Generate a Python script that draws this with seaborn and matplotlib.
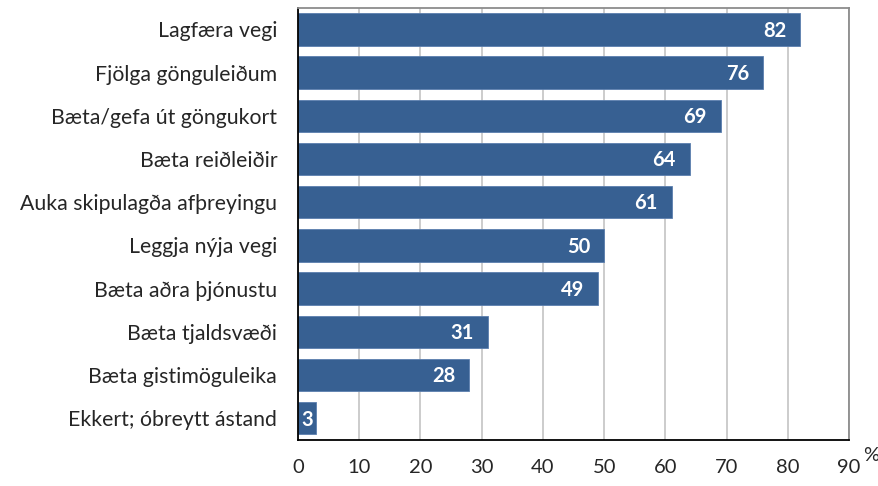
import matplotlib
matplotlib.use("Agg")
import matplotlib.pyplot as plt
import seaborn as sns
import pandas as pd

categories = [
    "Lagfæra vegi",
    "Fjölga gönguleiðum",
    "Bæta/gefa út göngukort",
    "Bæta reiðleiðir",
    "Auka skipulagða afþreyingu",
    "Leggja nýja vegi",
    "Bæta aðra þjónustu",
    "Bæta tjaldsvæði",
    "Bæta gistimöguleika",
    "Ekkert; óbreytt ástand",
]
values = [82, 76, 69, 64, 61, 50, 49, 31, 28, 3]
x_ticks = [0, 10, 20, 30, 40, 50, 60, 70, 80, 90]

df = pd.DataFrame({"cat": categories, "val": values})

sns.set_theme(style="white")
plt.rcParams["font.family"] = ["Lato", "DejaVu Sans"]

fig = plt.figure(figsize=(8.79, 4.86), dpi=100)
ax = fig.add_axes([0.339, 0.095, 0.627, 0.889])

bar_color = "#376092"
sns.barplot(data=df, x="val", y="cat", orient="h", color=bar_color,
            width=0.75, saturation=1, ax=ax, edgecolor="#5b7fae", linewidth=0.6)

ax.set_xlim(0, 90)
ax.set_ylim(len(categories) - 0.5, -0.5)
ax.set_xticks(x_ticks)
ax.set_xticklabels([str(t) for t in x_ticks], fontsize=14.5)
ax.set_yticks(range(len(categories)))
ax.set_yticklabels(categories, fontsize=15.3)
ax.set_xlabel("")
ax.set_ylabel("")

# y tick marks sit between the categories
ax.set_yticks([i + 0.5 for i in range(-1, len(categories))], minor=True)
ax.tick_params(axis="y", which="major", length=0, pad=15)
ax.tick_params(axis="y", which="minor", length=7, width=1.2, color="black", direction="out")
ax.tick_params(axis="x", which="major", length=6, width=1.2, color="black", direction="out", pad=8)

ax.grid(axis="x", color="#c8c8c8", linewidth=1.3)
ax.set_axisbelow(True)

for side in ("left", "bottom"):
    ax.spines[side].set_color("black")
    ax.spines[side].set_linewidth(1.3)
for side in ("top", "right"):
    ax.spines[side].set_visible(True)
    ax.spines[side].set_color("#8c8c8c")
    ax.spines[side].set_linewidth(1.3)

# value labels inside the bar ends
for i, v in enumerate(values):
    if v >= 10:
        ax.text(v - 2.3, i + 0.03, str(v), ha="right", va="center", color="white",
                fontsize=14.5, fontweight="bold")
    else:
        ax.text(v / 2, i + 0.03, str(v), ha="center", va="center", color="white",
                fontsize=14.5, fontweight="bold")

ax.text(1.025, -0.055, "%", transform=ax.transAxes, ha="left", va="bottom", fontsize=14.5)

fig.savefig("out.png", dpi=100)
